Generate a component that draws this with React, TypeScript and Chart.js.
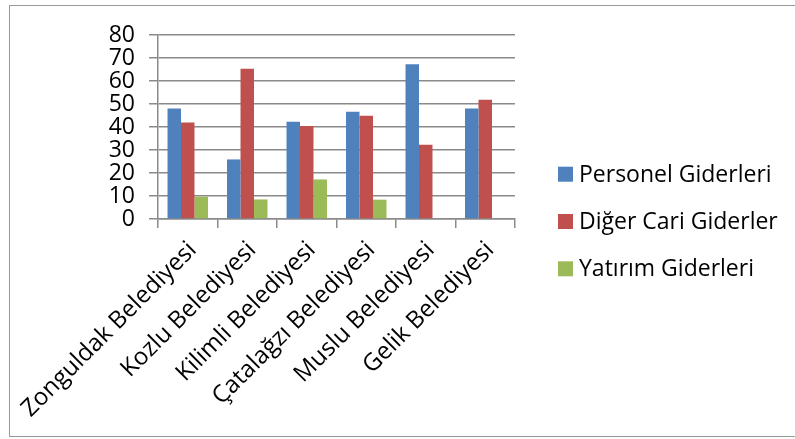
import { useEffect, useRef } from "react";
import { Chart, registerables } from "chart.js";

Chart.register(...registerables);

const categories = [
  "Zonguldak Belediyesi",
  "Kozlu Belediyesi",
  "Kilimli Belediyesi",
  "Çatalağzı Belediyesi",
  "Muslu Belediyesi",
  "Gelik Belediyesi",
];
const seriesNames = ["Personel Giderleri", "Diğer Cari Giderler", "Yatırım Giderleri"];
const personelGiderleri = [48.0, 25.9, 42.3, 46.6, 67.3, 48.0];
const digerCariGiderler = [42.0, 65.3, 40.4, 44.9, 32.3, 51.8];
const yatirimGiderleri = [9.7, 8.5, 17.2, 8.4, 0, 0];
const yMin = 0;
const yMax = 80;
const yStep = 10;

const colors = ["#4F81BD", "#C0504D", "#9BBB59"];
const FONT = "'Open Sans', 'Noto Sans', sans-serif";
const GRID = "#8a8a8a";

const sideLegend = {
  id: "sideLegend",
  afterDraw(chart: any) {
    const ctx = chart.ctx as CanvasRenderingContext2D;
    const ds = chart.data.datasets;
    const spacing = 47.3;
    const cy0 = chart.height / 2 + 2 - (spacing * (ds.length - 1)) / 2;
    const x = chart.chartArea.right + 43;
    ctx.save();
    ctx.font = `23px ${FONT}`;
    ctx.textBaseline = "alphabetic";
    ctx.textAlign = "left";
    ds.forEach((d: any, i: number) => {
      const cy = cy0 + i * spacing;
      ctx.fillStyle = d.backgroundColor;
      ctx.fillRect(x, cy - 7.5, 15, 15);
      ctx.fillStyle = "#000";
      ctx.fillText(d.label, x + 21, cy + 7.5);
    });
    ctx.restore();
  },
};

export default function App() {
  const canvasRef = useRef<HTMLCanvasElement | null>(null);

  useEffect(() => {
    let chart: Chart | null = null;
    let cancelled = false;
    const make = () => {
      if (cancelled || !canvasRef.current) return;
      chart = new Chart(canvasRef.current, {
        type: "bar",
        data: {
          labels: categories,
          datasets: [personelGiderleri, digerCariGiderler, yatirimGiderleri].map((d, i) => ({
            label: seriesNames[i],
            data: d,
            backgroundColor: colors[i],
            borderWidth: 0,
            categoryPercentage: 0.68,
            barPercentage: 1.0,
          })),
        },
        plugins: [sideLegend],
        options: {
          animation: false,
          responsive: true,
          maintainAspectRatio: false,
          layout: { padding: { left: 108, top: 35, right: 280, bottom: 10 } },
          font: { family: FONT, size: 23 },
          plugins: {
            tooltip: { enabled: false },
            legend: { display: false },
          },
          scales: {
            x: {
              grid: {
                display: true,
                drawOnChartArea: false,
                drawTicks: true,
                tickLength: 9,
                color: GRID,
                lineWidth: 1.5,
                offset: true,
              },
              border: { display: true, color: GRID, width: 1.5 },
              ticks: {
                minRotation: 45,
                maxRotation: 45,
                autoSkip: false,
                labelOffset: 5,
                padding: 8,
                color: "#000",
                font: { family: FONT, size: 24 },
              },
              afterFit: (s: any) => {
                s.paddingLeft = 0;
                s.paddingRight = 0;
                s.height = 210;
              },
            },
            y: {
              min: yMin,
              max: yMax,
              grid: {
                color: GRID,
                lineWidth: 1.5,
                drawTicks: true,
                tickLength: 9,
              },
              border: { display: true, color: GRID, width: 1.5 },
              ticks: {
                stepSize: yStep,
                autoSkip: false,
                padding: 14,
                color: "#000",
                font: { family: FONT, size: 23, lineHeight: 1 },
              },
              afterFit: (s: any) => {
                s.width = 50;
              },
            },
          },
        },
      });
    };
    const fontsApi = (document as any).fonts;
    if (fontsApi && fontsApi.load) {
      Promise.all([fontsApi.load(`23px 'Open Sans'`), fontsApi.load(`24px 'Open Sans'`)]).then(make, make);
    } else {
      make();
    }
    return () => {
      cancelled = true;
      if (chart) chart.destroy();
    };
  }, []);

  return (
    <div style={{ position: "absolute", left: 0, top: 0, width: 795, height: 439, overflow: "hidden", background: "#fff" }}>
      <div
        style={{
          position: "absolute",
          left: 9,
          top: 5,
          width: 800,
          height: 430,
          border: "1.5px solid #9a9a9a",
        }}
      />
      <div style={{ position: "absolute", left: 0, top: 0, width: 795, height: 439 }}>
        <canvas ref={canvasRef} />
      </div>
    </div>
  );
}
